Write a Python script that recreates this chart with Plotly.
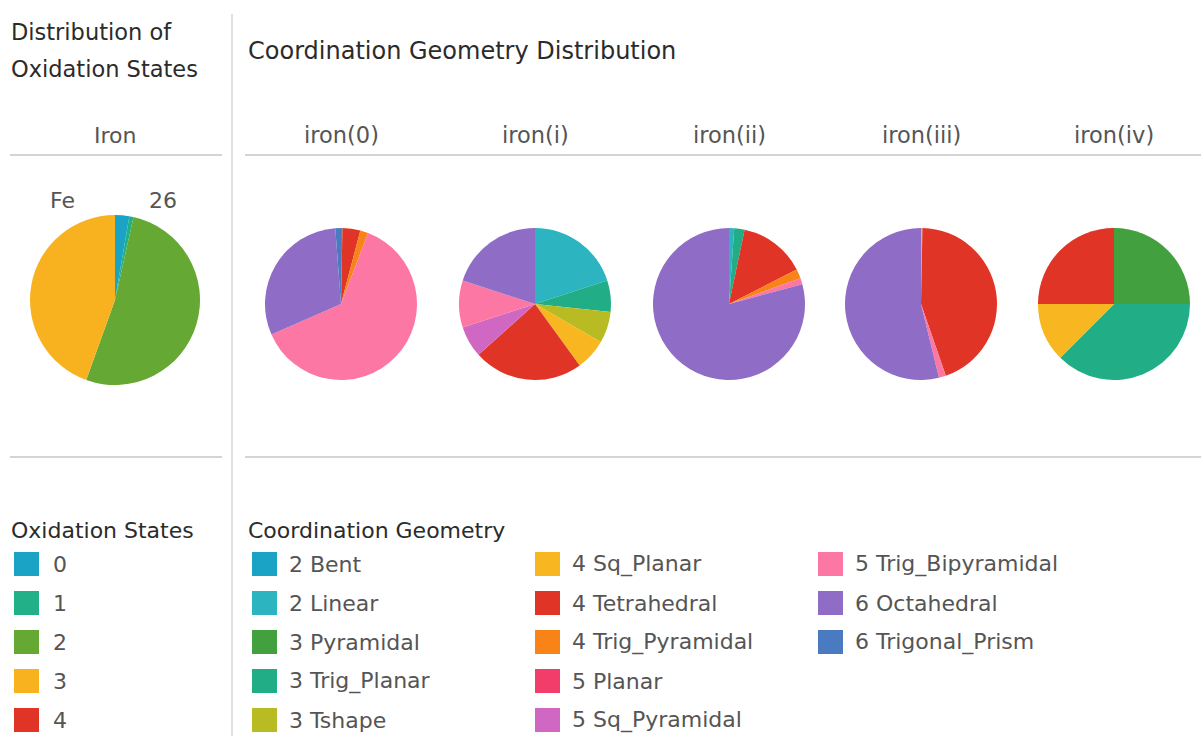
import plotly.graph_objects as go

W, H = 1201, 736

# ---------------- data ----------------
ox_states = ["0", "1", "2", "3", "4"]
ox_values = [2.7, 0.8, 52.0, 44.5, 0.0]
ox_colors = ["#1ba3c6", "#21b087", "#66a834", "#f8b220", "#e03426"]

geometries = ["2 Bent", "2 Linear", "3 Pyramidal", "3 Trig_Planar", "3 Tshape",
              "4 Sq_Planar", "4 Tetrahedral", "4 Trig_Pyramidal", "5 Planar",
              "5 Sq_Pyramidal", "5 Trig_Bipyramidal", "6 Octahedral", "6 Trigonal_Prism"]
geo_colors = ["#1ba3c6", "#2cb5c0", "#43a03f", "#21ad85", "#b8bc22",
              "#f8b620", "#e03426", "#f88317", "#f23c69",
              "#d067c3", "#fc77a3", "#8f6cc6", "#4a7bc0"]

iron_species = ["iron(0)", "iron(i)", "iron(ii)", "iron(iii)", "iron(iv)"]
iron_0 = [0.3, 0, 0, 0, 0, 0, 3.8, 1.7, 0, 0, 62.6, 30.4, 1.2]
iron_i = [0, 6, 0, 2, 2, 2, 7, 0, 0, 2, 3, 6, 0]
iron_ii = [0, 1.1, 0, 2.2, 0, 0, 14.2, 2.0, 0, 0, 1.3, 79.2, 0]
iron_iii = [0, 0, 0, 0, 0, 0.3, 44.4, 0, 0, 0, 1.5, 53.8, 0]
iron_iv = [0, 0, 2, 3, 0, 1, 2, 0, 0, 0, 0, 0, 0]
species_values = [iron_0, iron_i, iron_ii, iron_iii, iron_iv]

FONT = "DejaVu Sans"
TXT = "#2b2b2b"
GREY = "#555555"
LINE = "#d4d4d4"


def dom(cx, cy, r):
    return dict(x=[(cx - r) / W, (cx + r) / W], y=[(H - cy - r) / H, (H - cy + r) / H])


fig = go.Figure()

# Oxidation-state pie
fig.add_trace(go.Pie(labels=ox_states, values=ox_values, sort=False, direction="clockwise",
                     rotation=0, textinfo="none", hoverinfo="label+percent",
                     marker=dict(colors=ox_colors, line=dict(width=0)),
                     domain=dom(115, 300, 85), showlegend=False))

# Coordination geometry pies
centers_x = [341, 535, 729, 921, 1114]
for name, vals, cx in zip(iron_species, species_values, centers_x):
    fig.add_trace(go.Pie(labels=geometries, values=vals, sort=False, direction="clockwise",
                         rotation=0, textinfo="none", name=name, hoverinfo="label+percent+name",
                         marker=dict(colors=geo_colors, line=dict(width=0)),
                         domain=dom(cx, 304, 76), showlegend=False))

shapes = []
ann = []


def px(x):
    return x / W


def py(y):
    return 1 - y / H


def line(x0, y0, x1, y1, w=2):
    shapes.append(dict(type="line", xref="paper", yref="paper", x0=px(x0), y0=py(y0),
                       x1=px(x1), y1=py(y1), line=dict(color=LINE, width=w)))


def text(x, y, s, size=18, color=TXT, xanchor="left"):
    ann.append(dict(xref="paper", yref="paper", x=px(x), y=py(y), text=s, showarrow=False,
                    xanchor=xanchor, yanchor="middle", xshift=0, yshift=0,
                    font=dict(family=FONT, size=size, color=color)))


# separators
line(232, 14, 232, 736, 1.5)
line(10, 155, 222, 155)
line(245, 155, 1201, 155)
line(10, 457, 222, 457)
line(245, 457, 1201, 457)

# titles
text(9, 32, "Distribution of", 22.5)
text(9, 69, "Oxidation States", 22.5)
text(246, 51, "Coordination Geometry Distribution", 24)
text(115, 135, "Iron", 22, GREY, "center")
for name, cx in zip(iron_species, centers_x):
    text(cx, 135, name, 22.5, GREY, "center")
text(62, 200, "Fe", 22, GREY, "center")
text(163, 200, "26", 22, GREY, "center")

# legends
text(9, 530, "Oxidation States", 22, TXT)
rows = [564, 603, 642, 681, 720]
for lab, col, y in zip(ox_states, ox_colors, rows):
    shapes.append(dict(type="rect", xref="paper", yref="paper", x0=px(14), x1=px(39),
                       y0=py(y + 12), y1=py(y - 12), fillcolor=col, line=dict(width=0)))
    text(51, y, lab, 22, GREY)

text(246, 530, "Coordination Geometry", 22, TXT)
col_x = [252, 535, 818]
for i, (lab, col) in enumerate(zip(geometries, geo_colors)):
    c, r = divmod(i, 5)
    x0 = col_x[c]
    y = rows[r]
    shapes.append(dict(type="rect", xref="paper", yref="paper", x0=px(x0), x1=px(x0 + 25),
                       y0=py(y + 12), y1=py(y - 12), fillcolor=col, line=dict(width=0)))
    text(x0 + 35, y, lab, 22, GREY)

fig.update_layout(width=W, height=H, margin=dict(l=0, r=0, t=0, b=0),
                  paper_bgcolor="white", plot_bgcolor="white",
                  shapes=shapes, annotations=ann, showlegend=False)

fig.write_html("out.html", config={"displayModeBar": False},
               post_script="document.body.style.margin='0';document.body.style.overflow='hidden';")
